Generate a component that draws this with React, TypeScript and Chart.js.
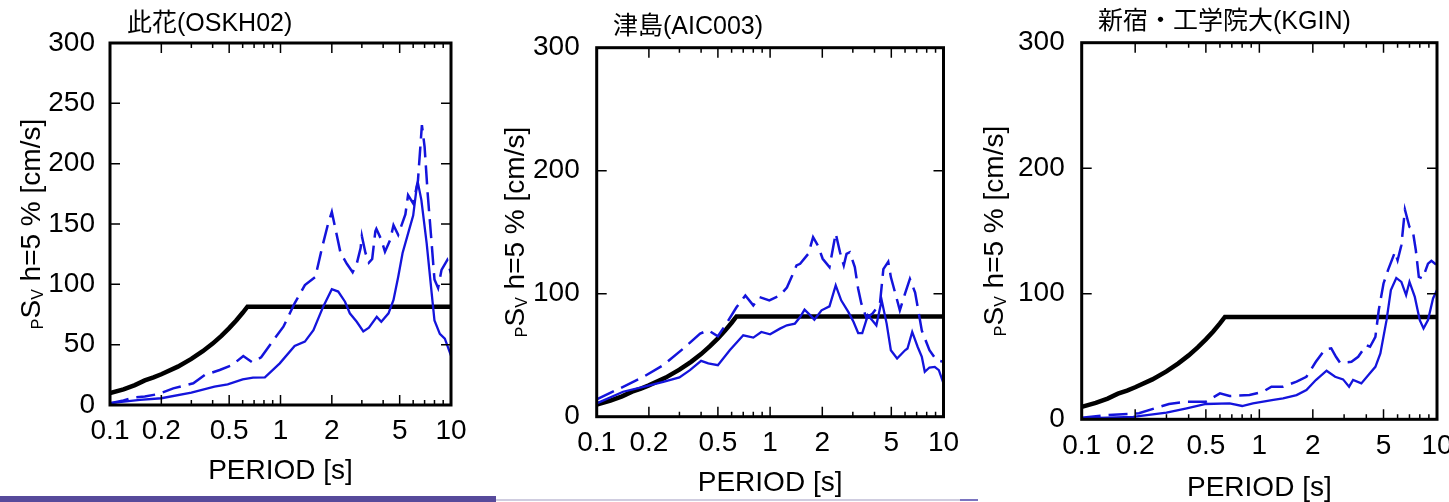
import React, { useEffect, useRef } from 'react';
import { Chart, registerables } from 'chart.js';
Chart.register(...registerables);

// ---------- data ----------
const X_LABEL_TICKS = [0.1, 0.2, 0.5, 1, 2, 5, 10];
const X_MINOR_TICKS = [0.3, 0.4, 0.6, 0.7, 0.8, 0.9, 3, 4, 6, 7, 8, 9];
const Y_TICKS_50 = [0, 50, 100, 150, 200, 250, 300];
const Y_TICKS_100 = [0, 100, 200, 300];

const TITLES = ['此花(OSKH02)', '津島(AIC003)', '新宿・工学院大(KGIN)'];
const X_TITLE = 'PERIOD [s]';

// design (notification) spectrum, black
const DESIGN_T = [0.1, 0.12, 0.14, 0.16, 0.18, 0.2, 0.25, 0.3, 0.35, 0.4, 0.45, 0.5, 0.55, 0.6, 0.64, 10];
const DESIGN_V = [9.9, 13.0, 16.5, 20.4, 22.9, 25.5, 31.8, 38.2, 44.6, 50.9, 57.3, 63.7, 70.0, 76.4, 81.5, 81.5];

// 此花 OSKH02
const OSKH02_DASH_T = [0.1, 0.12, 0.137, 0.16, 0.192, 0.235, 0.308, 0.36, 0.44, 0.52, 0.605, 0.68, 0.77, 0.91, 1.04, 1.21, 1.39, 1.6, 1.75, 1.9, 2.0, 2.1, 2.25, 2.45, 2.65, 2.8, 2.95, 3.0, 3.15, 3.3, 3.45, 3.6, 3.65, 3.9, 4.1, 4.4, 4.6, 4.9, 5.4, 5.6, 6.0, 6.4, 6.75, 7.0, 7.3, 7.7, 8.0, 8.4, 8.8, 9.5, 10];
const OSKH02_DASH_V = [1.5, 3.8, 6.1, 7.0, 9.1, 13.8, 18, 24.9, 29, 33.1, 40.6, 35.5, 39.5, 53.9, 64.9, 84.3, 99.4, 106, 130, 150, 160, 146, 126, 117, 110, 117, 130, 140, 126, 118, 121, 144, 146, 137, 127, 137, 149, 141, 158, 174, 167, 186, 232, 214, 175, 134, 104, 97, 112, 120, 109];
const OSKH02_SOLID_T = [0.1, 0.15, 0.2, 0.3, 0.41, 0.49, 0.6, 0.69, 0.81, 0.99, 1.21, 1.39, 1.56, 1.78, 2.0, 2.18, 2.39, 2.55, 2.8, 3.06, 3.3, 3.67, 3.9, 4.3, 4.6, 4.9, 5.2, 5.7, 6.0, 6.3, 6.4, 6.7, 7.2, 7.7, 8.0, 8.6, 9.2, 10];
const OSKH02_SOLID_V = [1.5, 4.2, 5.6, 10.2, 15.2, 17.1, 21.3, 22.7, 22.9, 34.5, 48.9, 52.5, 62, 81.5, 95.9, 94, 85.6, 76, 69, 61, 64, 73, 69, 76, 87, 106, 126, 146, 157, 181, 184, 170, 134, 93, 70, 59, 55, 41];

// 津島 AIC003
const AIC003_DASH_T = [0.1, 0.142, 0.186, 0.242, 0.316, 0.395, 0.44, 0.5, 0.56, 0.64, 0.72, 0.8, 0.87, 0.99, 1.14, 1.25, 1.33, 1.42, 1.49, 1.66, 1.77, 1.89, 2.01, 2.2, 2.31, 2.39, 2.53, 2.66, 2.76, 2.88, 3.08, 3.22, 3.36, 3.6, 3.9, 4.3, 4.5, 4.8, 4.97, 5.35, 5.6, 6.0, 6.4, 6.86, 7.5, 8.3, 9.1, 10];
const AIC003_DASH_V = [14.1, 24.3, 32.4, 41.9, 55.4, 67.6, 70.3, 65.4, 75.7, 89, 98.6, 90.5, 97.2, 94.6, 98.6, 105, 113.5, 123, 124.3, 132.4, 145.9, 139, 128.4, 121.6, 137.8, 149, 133.7, 123, 132.4, 133.7, 121.6, 104, 91.9, 80, 84, 92, 120, 126, 113.5, 97, 86.5, 100, 112, 101, 70, 54, 46, 44.6];
const AIC003_SOLID_T = [0.1, 0.142, 0.186, 0.242, 0.3, 0.345, 0.4, 0.44, 0.5, 0.585, 0.7, 0.8, 0.89, 1.0, 1.14, 1.25, 1.39, 1.49, 1.58, 1.69, 1.8, 1.98, 2.2, 2.39, 2.57, 2.83, 3.03, 3.22, 3.4, 3.66, 3.9, 4.1, 4.4, 4.7, 4.97, 5.4, 6.0, 6.2, 6.6, 7.1, 7.5, 7.8, 8.3, 8.9, 9.4, 10];
const AIC003_SOLID_V = [10.8, 20.3, 24.3, 28.4, 31.9, 37.8, 45.4, 43.3, 41.9, 54, 66.2, 64.3, 68.9, 67, 71.6, 74.3, 75.7, 81, 87, 83, 78.9, 86.5, 89.7, 106.7, 94.6, 85, 77, 68, 68, 82.4, 78, 74.3, 94.6, 75.7, 54, 47.3, 54, 55.4, 68.9, 56.7, 48.6, 36.5, 40, 40.5, 37.8, 27];

// 新宿・工学院大 KGIN
const KGIN_DASH_T = [0.1, 0.14, 0.21, 0.276, 0.31, 0.39, 0.5, 0.6, 0.68, 0.74, 0.88, 1.05, 1.17, 1.36, 1.62, 1.84, 2.08, 2.34, 2.54, 2.7, 2.85, 3.3, 3.6, 4.0, 4.2, 4.5, 4.7, 5.0, 5.3, 5.8, 6.0, 6.3, 6.6, 7.0, 7.3, 7.6, 7.9, 8.3, 8.9, 9.3, 10];
const KGIN_DASH_V = [1.3, 3.4, 4.8, 10, 12.2, 14, 14, 20.7, 18.5, 18.8, 19.3, 22, 26, 26, 30, 33.9, 45.8, 55.7, 56.5, 49.8, 45, 45.8, 49.8, 59.1, 57.8, 65.7, 87, 108.2, 118.8, 133.3, 126.7, 138.7, 167, 153.2, 150.6, 134.7, 113.4, 112.2, 124, 126.2, 122.7];
const KGIN_SOLID_T = [0.1, 0.195, 0.3, 0.39, 0.5, 0.68, 0.8, 0.92, 1.2, 1.36, 1.62, 1.84, 2.08, 2.39, 2.67, 2.96, 3.2, 3.37, 3.75, 4.19, 4.5, 4.8, 5.2, 5.5, 5.9, 6.3, 6.7, 7.0, 7.5, 8.0, 8.4, 8.9, 9.5, 10];
const KGIN_SOLID_V = [0.8, 2, 5.3, 8.7, 12.2, 12.7, 10.6, 12.7, 15.4, 16.7, 19.3, 23.3, 31.3, 38.7, 33.9, 31.8, 26, 31.3, 28.6, 36.6, 41.8, 52.5, 79, 102.9, 112.6, 109.5, 98.9, 109.5, 97.5, 79, 72.4, 79, 96.3, 103];

// ---------- style / layout ----------
const BLUE = '#1414dc';
const FONT = "'Liberation Sans', Arial, 'Noto Sans CJK JP', sans-serif";
const TICK_SIZE = 28;
const AXIS_TITLE_SIZE = 28;
const SUB_SIZE = 16;
const PANEL_TITLE_SIZE = 25;

function pairs(t: number[], v: number[]) {
  return t.map((x, i) => ({ x, y: v[i] }));
}

type Layout = {
  left: number; width: number; yW: number; padTop: number; padRight: number; xH: number;
  xPad: number; yPad: number; titleX: number; titleY: number; yTitleX: number; yTitleY: number; xTitleY: number;
};

const PANELS = [
  {
    title: TITLES[0], yTicks: Y_TICKS_50,
    dash: pairs(OSKH02_DASH_T, OSKH02_DASH_V), solid: pairs(OSKH02_SOLID_T, OSKH02_SOLID_V),
    layout: { left: 0, width: 480, yW: 110, padTop: 43, padRight: 29, xH: 97, xPad: 9, yPad: 15, titleX: 127, titleY: 24, yTitleX: 40, yTitleY: 224, xTitleY: 471 } as Layout,
  },
  {
    title: TITLES[1], yTicks: Y_TICKS_100,
    dash: pairs(AIC003_DASH_T, AIC003_DASH_V), solid: pairs(AIC003_SOLID_T, AIC003_SOLID_V),
    layout: { left: 480, width: 490, yW: 116.7, padTop: 47.7, padRight: 26.5, xH: 85.3, xPad: 9.5, yPad: 17, titleX: 133, titleY: 27, yTitleX: 44, yTitleY: 232, xTitleY: 483 } as Layout,
  },
  {
    title: TITLES[2], yTicks: Y_TICKS_100,
    dash: pairs(KGIN_DASH_T, KGIN_DASH_V), solid: pairs(KGIN_SOLID_T, KGIN_SOLID_V),
    layout: { left: 960, width: 489, yW: 121.7, padTop: 42.7, padRight: 12, xH: 82.7, xPad: 10, yPad: 17, titleX: 138, titleY: 22, yTitleX: 43, yTitleY: 231, xTitleY: 488 } as Layout,
  },
];

const framePlugin = {
  id: 'frame',
  afterDraw(chart: any, _args: any, opts: any) {
    const { ctx, chartArea: a, scales } = chart;
    const L: Layout = opts.layout;
    const yTicks: number[] = opts.yTicks;
    ctx.save();
    // frame
    ctx.strokeStyle = '#000';
    ctx.lineWidth = 3;
    ctx.strokeRect(a.left, a.top, a.right - a.left, a.bottom - a.top);
    // ticks (inward, all four sides)
    ctx.lineWidth = 1.5;
    ctx.beginPath();
    const xt = (v: number, len: number) => {
      const x = scales.x.getPixelForValue(v);
      ctx.moveTo(x, a.bottom); ctx.lineTo(x, a.bottom - len);
      ctx.moveTo(x, a.top); ctx.lineTo(x, a.top + len);
    };
    X_LABEL_TICKS.forEach((v) => xt(v, 10));
    X_MINOR_TICKS.forEach((v) => xt(v, 5));
    yTicks.forEach((v) => {
      const y = scales.y.getPixelForValue(v);
      ctx.moveTo(a.left, y); ctx.lineTo(a.left + 10, y);
      ctx.moveTo(a.right, y); ctx.lineTo(a.right - 10, y);
    });
    ctx.stroke();

    ctx.fillStyle = '#000';
    // panel title
    ctx.font = `${PANEL_TITLE_SIZE}px ${FONT}`;
    ctx.textAlign = 'left';
    ctx.textBaseline = 'middle';
    ctx.fillText(opts.title, L.titleX, L.titleY);
    // x title
    ctx.font = `${AXIS_TITLE_SIZE}px ${FONT}`;
    ctx.textAlign = 'center';
    ctx.fillText(X_TITLE, (a.left + a.right) / 2, L.xTitleY);
    // y title with subscripts: pSv h=5 % [cm/s]
    ctx.translate(L.yTitleX, L.yTitleY);
    ctx.rotate(-Math.PI / 2);
    ctx.textAlign = 'left';
    ctx.textBaseline = 'alphabetic';
    const parts = [
      { t: 'P', s: SUB_SIZE, dy: 3 },
      { t: 'S', s: AXIS_TITLE_SIZE, dy: 0 },
      { t: 'V', s: SUB_SIZE, dy: 3 },
      { t: ' h=5 % [cm/s]', s: AXIS_TITLE_SIZE, dy: 0 },
    ];
    let total = 0;
    const widths = parts.map((p) => {
      ctx.font = `${p.s}px ${FONT}`;
      const w = ctx.measureText(p.t).width;
      total += w;
      return w;
    });
    let x = -total / 2;
    parts.forEach((p, i) => {
      ctx.font = `${p.s}px ${FONT}`;
      ctx.fillText(p.t, x, p.dy);
      x += widths[i];
    });
    ctx.restore();
  },
};

function Panel({ panel }: { panel: (typeof PANELS)[number] }) {
  const ref = useRef<HTMLCanvasElement>(null);
  useEffect(() => {
    const L = panel.layout;
    const chart = new Chart(ref.current as HTMLCanvasElement, {
      type: 'line',
      data: {
        datasets: [
          { data: panel.dash, borderColor: BLUE, borderWidth: 2.5, borderDash: [19, 8], pointRadius: 0, fill: false, tension: 0 },
          { data: panel.solid, borderColor: BLUE, borderWidth: 2.3, pointRadius: 0, fill: false, tension: 0 },
          { data: pairs(DESIGN_T, DESIGN_V), borderColor: '#000', borderWidth: 4.5, pointRadius: 0, fill: false, tension: 0 },
        ],
      },
      options: {
        animation: false,
        responsive: false,
        maintainAspectRatio: false,
        events: [],
        layout: { padding: { left: 0, top: L.padTop, right: L.padRight, bottom: 0 } },
        plugins: {
          legend: { display: false },
          tooltip: { enabled: false },
          title: { display: false },
          frame: { layout: L, yTicks: panel.yTicks, title: panel.title },
        } as any,
        scales: {
          x: {
            type: 'logarithmic',
            min: 0.1,
            max: 10,
            afterBuildTicks: (s: any) => { s.ticks = X_LABEL_TICKS.map((v) => ({ value: v })); },
            afterFit: (s: any) => { s.height = L.xH; s.paddingLeft = 0; s.paddingRight = 0; },
            ticks: {
              autoSkip: false, maxRotation: 0, minRotation: 0, padding: L.xPad,
              color: '#000', font: { family: FONT, size: TICK_SIZE },
              callback: (v: any) => String(v),
            },
            grid: { display: false, drawTicks: false },
            border: { display: false },
          },
          y: {
            type: 'linear',
            min: 0,
            max: 300,
            afterBuildTicks: (s: any) => { s.ticks = panel.yTicks.map((v) => ({ value: v })); },
            afterFit: (s: any) => { s.width = L.yW; s.paddingTop = 0; s.paddingBottom = 0; },
            ticks: {
              autoSkip: false, padding: L.yPad,
              color: '#000', font: { family: FONT, size: TICK_SIZE },
              callback: (v: any) => String(v),
            },
            grid: { display: false, drawTicks: false },
            border: { display: false },
          },
        } as any,
      },
      plugins: [framePlugin as any],
    });
    return () => chart.destroy();
  }, [panel]);
  const L = panel.layout;
  return (
    <canvas
      ref={ref}
      width={L.width}
      height={502}
      style={{ position: 'absolute', left: L.left, top: 0, width: L.width, height: 502, display: 'block' }}
    />
  );
}

export default function App() {
  return (
    <div style={{ position: 'absolute', left: 0, top: 0, width: 1449, height: 502, overflow: 'hidden', background: '#fff' }}>
      {PANELS.map((p, i) => (
        <Panel key={i} panel={p} />
      ))}
      <div style={{ position: 'absolute', left: 0, top: 496, width: 496, height: 6, background: '#574a9b' }} />
      <div style={{ position: 'absolute', left: 496, top: 499, width: 464, height: 2, background: '#cfcde0' }} />
      <div style={{ position: 'absolute', left: 960, top: 499, width: 18, height: 2, background: '#7a74c0' }} />
    </div>
  );
}
